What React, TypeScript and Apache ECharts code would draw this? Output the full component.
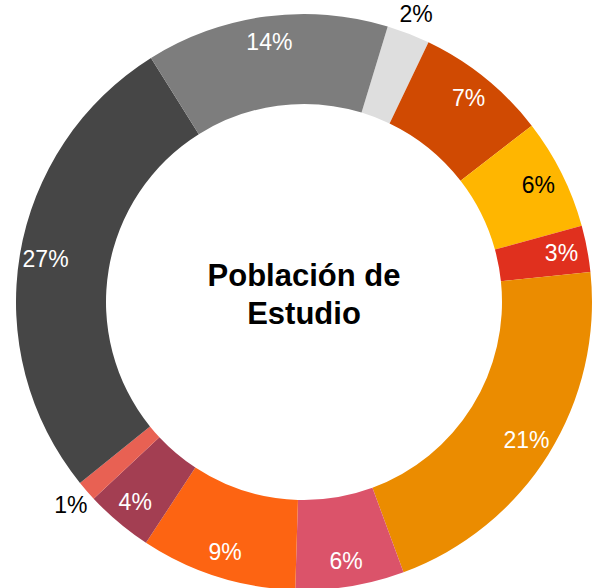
import React, { useEffect, useRef } from "react";
import * as echarts from "echarts";

// Segments clockwise, starting just right of 12 o'clock
const categories = [
  "Segmento 1", "Segmento 2", "Segmento 3", "Segmento 4", "Segmento 5", "Segmento 6",
  "Segmento 7", "Segmento 8", "Segmento 9", "Segmento 10", "Segmento 11",
];
const values = [2.42, 7.4, 6.22, 2.6, 21.05, 6.1, 8.76, 3.79, 1.15, 26.9, 13.61];
const colors = [
  "#DEDEDE", "#D04A02", "#FFB600", "#E0301E", "#EB8C00", "#DB536A",
  "#FD6412", "#A33E52", "#E86153", "#464646", "#7D7D7D",
];
// where the label is drawn: inside the ring or just outside it
const labelPlace = ["out", "in", "in", "in", "in", "in", "in", "in", "out", "in", "in"];
const labelColors = ["#000", "#fff", "#000", "#fff", "#fff", "#fff", "#fff", "#fff", "#000", "#fff", "#fff"];
const centerTitle = "Población de\nEstudio";

const FONT = "'Liberation Sans', Arial, sans-serif";

export default function App() {
  const ref = useRef<HTMLDivElement>(null);
  useEffect(() => {
    if (!ref.current) return;
    const chart = echarts.init(ref.current, null, { renderer: "svg" });
    const fmt = (p: any) => Math.round(p.percent) + "%";
    const base = {
      type: "pie",
      center: [304, 302],
      startAngle: 73.1,
      clockwise: true,
      avoidLabelOverlap: false,
      minAngle: 0,
      labelLine: { show: false },
      emphasis: { disabled: true },
    };
    const labelSeries = (radius: number[], place: string) => ({
      ...base,
      radius,
      silent: true,
      data: categories.map((n, i) => ({
        name: n,
        value: values[i],
        itemStyle: { color: "rgba(0,0,0,0)", borderWidth: 0 },
        label: {
          show: labelPlace[i] === place,
          position: "inside",
          formatter: fmt,
          color: labelColors[i],
          fontFamily: FONT,
          fontSize: 23,
        },
      })),
    });
    chart.setOption({
      animation: false,
      series: [
        {
          ...base,
          radius: [198, 288],
          silent: true,
          label: { show: false },
          data: categories.map((n, i) => ({
            name: n,
            value: values[i],
            itemStyle: { color: colors[i], borderWidth: 0 },
          })),
        },
        labelSeries([234, 284], "in"),
        labelSeries([296, 316], "out"),
      ],
      graphic: [
        {
          type: "text",
          x: 304,
          y: 294,
          style: {
            text: centerTitle,
            fill: "#000",
            font: `bold 31px ${FONT}`,
            textAlign: "center",
            textVerticalAlign: "middle",
            lineHeight: 38,
          },
        },
      ],
    });
    return () => chart.dispose();
  }, []);
  return (
    <div
      ref={ref}
      style={{ position: "fixed", left: 0, top: 0, width: 600, height: 588, background: "#fff" }}
    />
  );
}
